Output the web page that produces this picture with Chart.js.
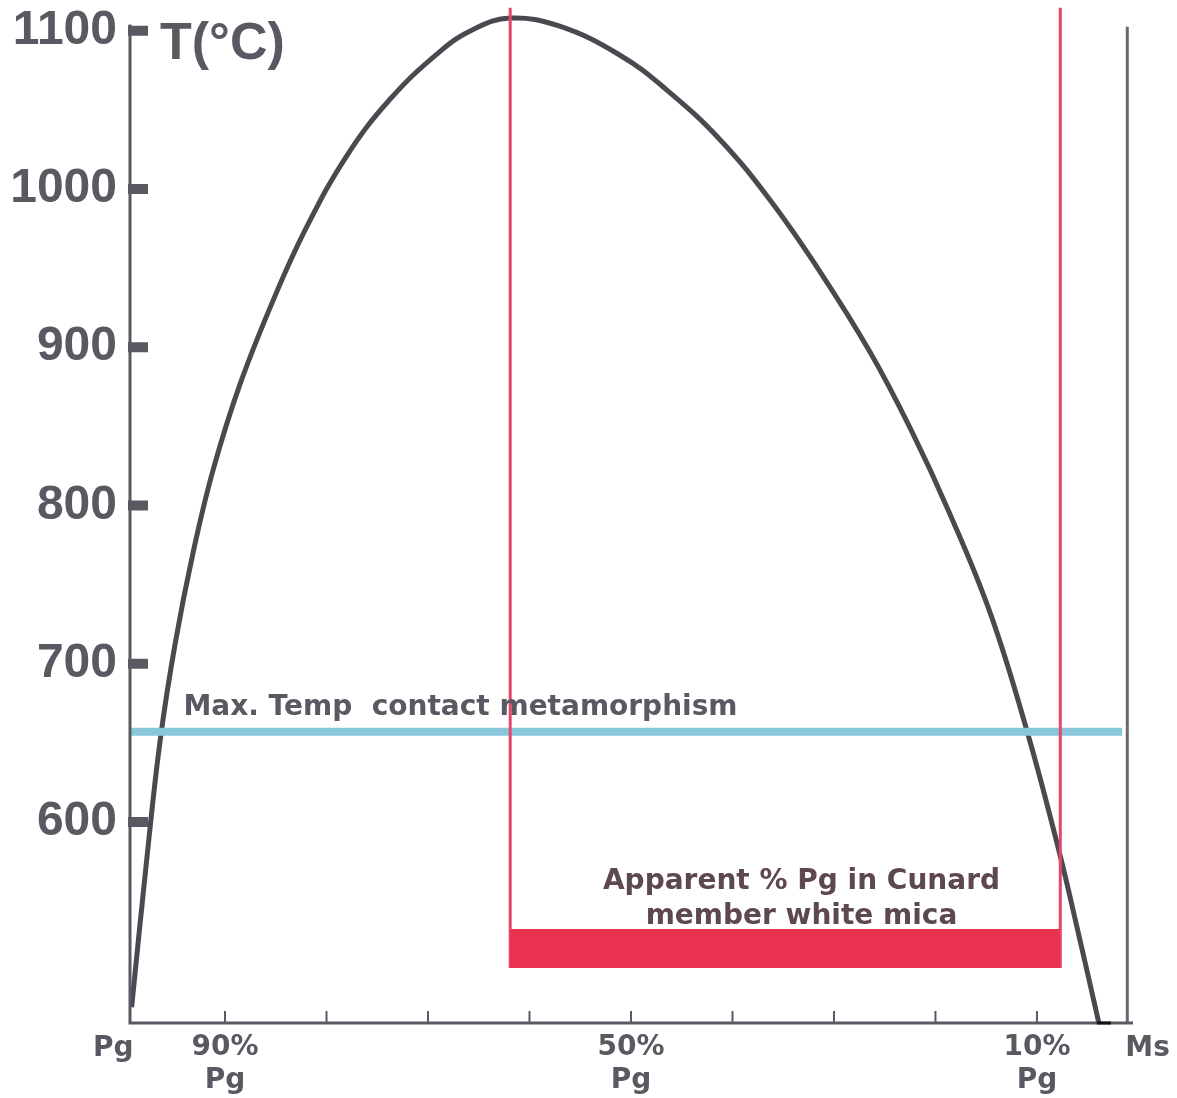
<!DOCTYPE html>
<html>
<head>
<meta charset="utf-8">
<script src="https://cdn.jsdelivr.net/npm/chart.js@4/dist/chart.umd.min.js"></script>
<style>
  body { margin: 0; background: #fff; }
  #wrap { width: 1177px; height: 1098px; position: relative; }
</style>
</head>
<body>
<div id="wrap"><canvas id="chart1"></canvas></div>
<script>
// solvus curve, x = % Ms (100% Pg on the left), y = T in deg C
var pctMs = [0.8, 2.3, 3.6, 5.07, 6.88, 8.85, 11.5, 14.9, 18.05, 22.0, 26.3, 31.2, 34.5, 38.1,
             42.9, 48.8, 53.45, 58.8, 63.7, 68.6, 73.55, 77.5, 81.4, 85.4, 89.0, 92.2, 94.0, 96.1];
var tempC = [483, 577, 651, 712, 771, 823, 877, 932, 976, 1021, 1057, 1087, 1101, 1108,
             1103, 1085, 1063, 1031, 993, 948, 897, 849, 795, 732, 658, 581, 532, 473];

var yTicks = [600, 700, 800, 900, 1000, 1100];
var xTicks = [10, 20, 30, 40, 50, 60, 70, 80, 90];
var xTickLabels = { 10: ['90%', 'Pg'], 50: ['50%', 'Pg'], 90: ['10%', 'Pg'] };
var xEndLabels = [['Pg', -1.0], ['Ms', 100.9]];

var contactMaxT = 657;            // max temp contact metamorphism
var cunardPct = [38.1, 92.3];     // apparent % range, Cunard member white mica
var cunardBand = [507.7, 532.4];  // red bar
var redTopT = 1114.5;
var msLine = [98.9, 473, 1102.5]; // right-hand Ms boundary line

var grey = '#5a5860';

var axesPlugin = {
  id: 'axesPlugin',
  afterDraw: function(chart) {
    var c = chart.ctx, x = chart.scales.x, y = chart.scales.y;
    var left = chart.chartArea.left, bottom = chart.chartArea.bottom;
    c.save();
    c.strokeStyle = grey;
    c.lineCap = 'butt';
    // axes
    c.lineWidth = 3;
    c.beginPath();
    c.moveTo(left, y.getPixelForValue(1104));
    c.lineTo(left, bottom);
    c.lineTo(chart.chartArea.right - 2, bottom);
    c.stroke();
    // y tick dashes
    c.lineWidth = 10;
    yTicks.forEach(function(t) {
      var py = y.getPixelForValue(t);
      c.beginPath(); c.moveTo(left - 2, py); c.lineTo(left + 18, py); c.stroke();
    });
    // x tick marks (pointing up)
    c.lineWidth = 2;
    xTicks.forEach(function(v) {
      var px = x.getPixelForValue(v);
      c.beginPath(); c.moveTo(px, bottom); c.lineTo(px, bottom - 12); c.stroke();
    });
    // end of the solvus at the base line
    c.strokeStyle = '#111';
    c.lineWidth = 3;
    c.beginPath();
    c.moveTo(x.getPixelForValue(pctMs[pctMs.length - 1]) - 2, bottom);
    c.lineTo(x.getPixelForValue(pctMs[pctMs.length - 1]) + 12, bottom);
    c.stroke();

    c.fillStyle = grey;
    c.textBaseline = 'middle';
    c.textAlign = 'center';
    c.font = 'bold 28px "DejaVu Sans"';
    xEndLabels.forEach(function(l) {
      c.fillText(l[0], x.getPixelForValue(l[1]), bottom + 26);
    });
    c.textAlign = 'left';
    c.font = 'bold 52px "Liberation Sans"';
    c.fillText('T(\u00b0C)', x.getPixelForValue(3.6), y.getPixelForValue(1091));
    c.font = 'bold 28px "DejaVu Sans"';
    c.fillText('Max. Temp  contact metamorphism', x.getPixelForValue(5.9), y.getPixelForValue(contactMaxT + 15.5));
    c.fillStyle = '#5e4850';
    c.textAlign = 'center';
    c.fillText('Apparent % Pg in Cunard', x.getPixelForValue(66.8), y.getPixelForValue(562));
    c.fillText('member white mica', x.getPixelForValue(66.8), y.getPixelForValue(540));
    c.restore();
  }
};

function seg(x1, y1, x2, y2) {
  return [{ x: x1, y: y1 }, { x: x2, y: y2 }];
}

var ctx = document.getElementById('chart1').getContext('2d');

var myChart = new Chart(ctx, {
  type: 'scatter',
  data: {
    datasets: [{
      label: 'Cunard band',
      data: seg(cunardPct[0], cunardBand[1], cunardPct[1], cunardBand[1]),
      showLine: true,
      borderWidth: 0,
      backgroundColor: '#e8324f',
      fill: { value: cunardBand[0] },
      pointRadius: 0
    },
    {
      label: 'left red',
      data: seg(cunardPct[0], redTopT, cunardPct[0], cunardBand[0]),
      showLine: true,
      borderColor: '#e8456a',
      borderWidth: 3,
      pointRadius: 0
    },
    {
      label: 'right red',
      data: seg(cunardPct[1], redTopT, cunardPct[1], cunardBand[0]),
      showLine: true,
      borderColor: '#e8456a',
      borderWidth: 3,
      pointRadius: 0
    },
    {
      label: 'contact max',
      data: seg(0.4, contactMaxT, 98.4, contactMaxT),
      showLine: true,
      borderColor: '#88c6d9',
      borderWidth: 8,
      pointRadius: 0
    },
    {
      label: 'Ms',
      data: seg(msLine[0], msLine[1], msLine[0], msLine[2]),
      showLine: true,
      borderColor: '#6a686e',
      borderWidth: 3,
      pointRadius: 0
    },
    {
      label: 'solvus',
      data: pctMs.map(function(v, i) { return { x: v, y: tempC[i] }; }),
      showLine: true,
      borderColor: '#4b4950',
      borderWidth: 5,
      tension: 0.4,
      pointRadius: 0
    }]
  },
  options: {
    responsive: true,
    maintainAspectRatio: false,
    animation: false,
    layout: { padding: { top: 7, right: 42, left: 0, bottom: 0 } },
    plugins: {
      legend: { display: false },
      tooltip: { enabled: false }
    },
    scales: {
      x: {
        type: 'linear',
        min: 0.64,
        max: 99.66,
        border: { display: false },
        grid: { display: false, drawTicks: false },
        afterBuildTicks: function(s) { s.ticks = xTicks.map(function(v) { return { value: v }; }); },
        afterFit: function(s) { s.height = 75; s.paddingLeft = 0; s.paddingRight = 0; },
        ticks: {
          autoSkip: false,
          maxRotation: 0,
          padding: 9,
          color: grey,
          font: { family: 'DejaVu Sans', size: 28, weight: 'bold', lineHeight: 1.15 },
          callback: function(v) { return xTickLabels[v] || ''; }
        }
      },
      y: {
        min: 473,
        max: 1115,
        border: { display: false },
        grid: { display: false, drawTicks: false },
        afterBuildTicks: function(s) { s.ticks = yTicks.map(function(v) { return { value: v }; }); },
        afterFit: function(s) { s.width = 130; s.paddingTop = 0; s.paddingBottom = 0; },
        ticks: {
          padding: 13,
          color: grey,
          font: { family: 'Liberation Sans', size: 48, weight: 'bold' },
          callback: function(v) { return String(v); }
        }
      }
    }
  },
  plugins: [axesPlugin]
});
</script>
</body>
</html>
